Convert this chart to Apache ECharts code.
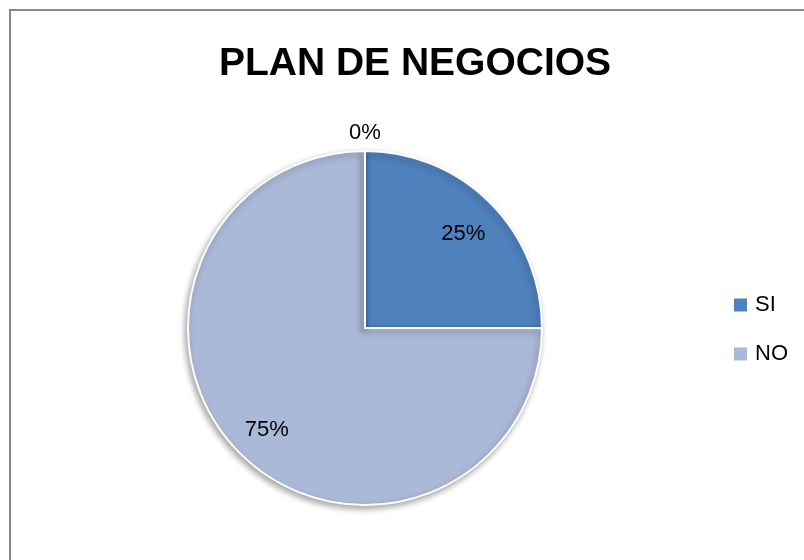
<!DOCTYPE html>
<html>
<head>
<meta charset="utf-8">
<script src="https://cdn.jsdelivr.net/npm/echarts@6/dist/echarts.min.js"></script>
<style>
    html, body { margin: 0; padding: 0; background: #fff; overflow: hidden; }
    #planPie { width: 804px; height: 560px; }
</style>
</head>
<body>
<div id="planPie"></div>
<script>
// datos del grafico
var categorias = ['SI', 'NO', ''];
var valores = [25, 75, 0];
var colores = ['#4F81BD', '#AAB9D7', '#4F81BD'];
var leyenda = ['SI', 'NO'];

var myChart = echarts.init(document.getElementById('planPie'));

// visible = true -> tarta coloreada; false -> capa transparente solo para etiquetas
function buildData(visible, showFn) {
    var data = [];
    for (var i = 0; i < categorias.length; i++) {
        data.push({
            name: categorias[i],
            value: valores[i],
            itemStyle: { color: visible ? colores[i] : 'rgba(0,0,0,0)' },
            label: { show: showFn(i) }
        });
    }
    return data;
}

var labelFont = {
    fontFamily: 'Liberation Sans',
    fontSize: 22,
    color: '#000',
    formatter: function (p) { return Math.round(p.percent) + '%'; }
};

myChart.setOption({
    animation: false,
    title: {
        text: 'PLAN DE NEGOCIOS',
        left: 410,
        top: 40,
        textAlign: 'center',
        textStyle: { fontFamily: 'Liberation Sans', fontWeight: 'bold', fontSize: 39, color: '#000' }
    },
    legend: {
        data: leyenda,
        orient: 'vertical',
        left: 734,
        top: 294,
        padding: 0,
        itemWidth: 13,
        itemHeight: 13,
        itemGap: 27,
        icon: 'rect',
        itemStyle: { borderWidth: 0 },
        textStyle: { fontFamily: 'Liberation Sans', fontSize: 22, color: '#000', padding: [0, 0, 0, 3] }
    },
    graphic: [{
        type: 'rect',
        silent: true,
        shape: { x: 10, y: 10, width: 1000, height: 1000 },
        style: { fill: 'none', stroke: '#878787', lineWidth: 2 }
    }],
    series: [
        {   // tarta visible
            type: 'pie',
            center: [365, 328],
            radius: 177,
            startAngle: 90,
            clockwise: true,
            silent: true,
            label: { show: false },
            labelLine: { show: false },
            itemStyle: {
                borderColor: '#fff',
                borderWidth: 2,
                shadowBlur: 6,
                shadowColor: 'rgba(0,0,0,0.35)',
                shadowOffsetX: -2,
                shadowOffsetY: 3
            },
            data: buildData(true, function () { return false; })
        },
        {   // etiquetas 25% / 75%
            type: 'pie',
            center: [365, 328],
            radius: 272,
            startAngle: 90,
            silent: true,
            legendHoverLink: false,
            itemStyle: { borderWidth: 0 },
            label: Object.assign({ position: 'inside', offset: [0, 4] }, labelFont),
            labelLine: { show: false },
            data: buildData(false, function (i) { return valores[i] > 0; })
        },
        {   // etiqueta 0%
            type: 'pie',
            center: [365, 328],
            radius: 388,
            startAngle: 90,
            silent: true,
            legendHoverLink: false,
            itemStyle: { borderWidth: 0 },
            label: Object.assign({ position: 'inside', offset: [0, 2] }, labelFont),
            labelLine: { show: false },
            data: buildData(false, function (i) { return valores[i] === 0; })
        }
    ]
});
</script>
</body>
</html>
